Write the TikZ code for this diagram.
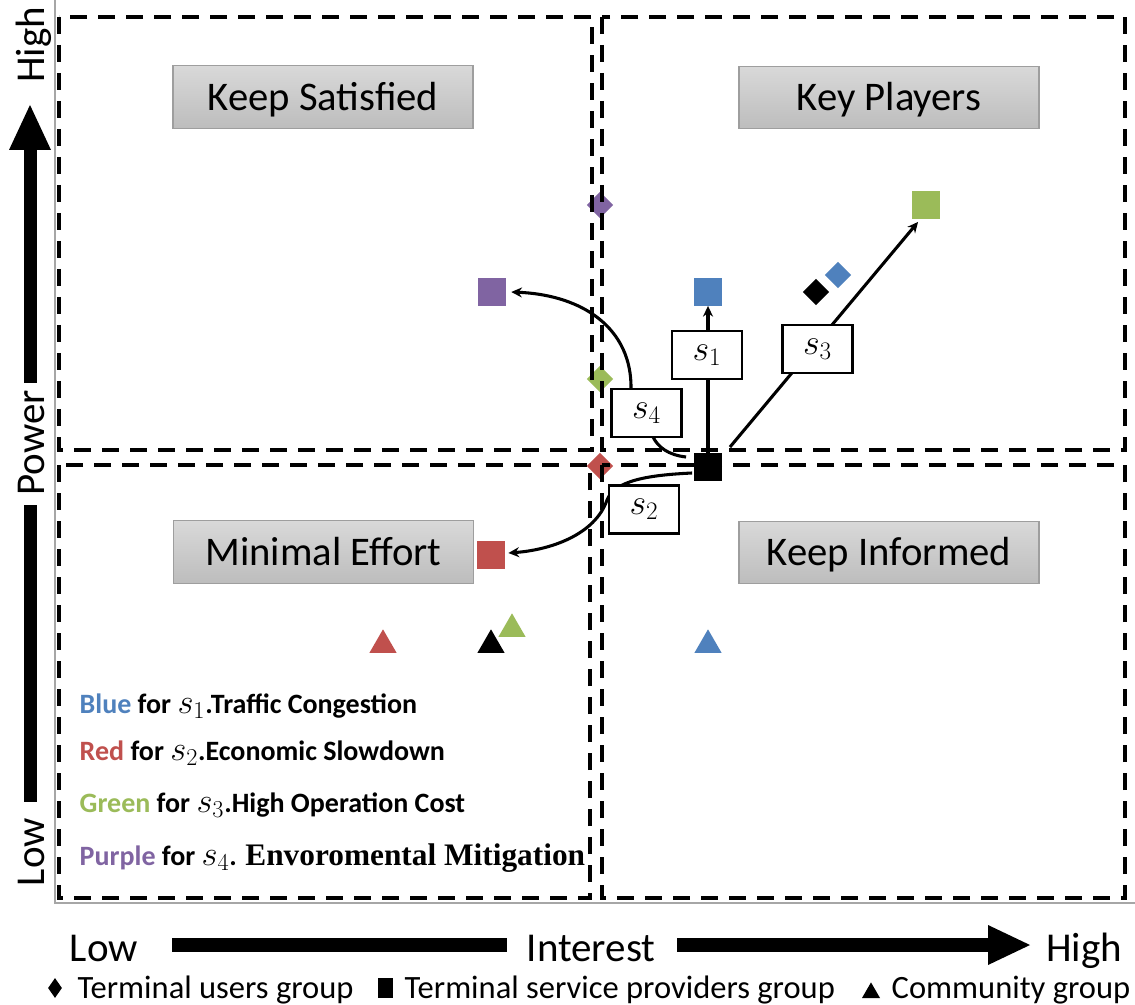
\RequirePackage{fix-cm}
\documentclass[tikz,border=0pt]{standalone}
\usepackage{fontspec}
\usetikzlibrary{shapes.geometric,arrows.meta}
\newfontfamily\carl{Carlito}
\newfontfamily\serifb{Liberation Serif}
\definecolor{cblue}{HTML}{4F81BD}
\definecolor{cred}{HTML}{C0504D}
\definecolor{cgreen}{HTML}{9BBB59}
\definecolor{cpurple}{HTML}{8064A2}
% scenario symbol, set a little larger than the surrounding text
\newcommand{\svar}[1]{{\fontsize{26}{26}\selectfont$s_{#1}$}}
\begin{document}
\begin{tikzpicture}[x=0.75pt,y=-0.75pt,
  quad/.style={draw=black, line width=3pt, dash pattern=on 12.75pt off 8.25pt},
  axisline/.style={draw=black!35, line width=1.1pt},
  zone/.style={draw=black!38, line width=0.9pt, top color=black!15, bottom color=black!26,
    minimum width=225pt, minimum height=47pt, inner sep=0pt,
    font=\carl\fontsize{30.5}{30.5}\selectfont, text height=19.6pt, text depth=0pt},
  sbox/.style={draw=black, fill=white, line width=2.2pt, minimum width=52.5pt,
    minimum height=36pt, inner sep=0pt, font=\fontsize{27}{27}\selectfont},
  sq/.style={rectangle, minimum size=20.5pt, inner sep=0pt},
  dm/.style={diamond, minimum width=20pt, minimum height=20pt, inner sep=0pt},
  tri/.style={regular polygon, regular polygon sides=3, minimum size=23.5pt, inner sep=0pt},
  link/.style={line width=2.3pt, -{Stealth[length=8pt,width=7.5pt]}},
  axisfont/.style={font=\carl\fontsize{30.75}{30.75}\selectfont},
  keyfont/.style={font=\carl\fontsize{24.4}{24.4}\selectfont},
  legfont/.style={font=\carl\bfseries\fontsize{21}{21}\selectfont}
]
\useasboundingbox (0,0) rectangle (1135,1005);
\fill[white] (0,0) rectangle (1135,1005);

% thin axis lines
\draw[axisline] (55,0) -- (55,903) -- (1135,903);

% stakeholder diamonds lying on the quadrant border
\node[dm, fill=cpurple] (d4) at (600,205) {};
\node[dm, fill=cgreen]  (d3) at (600,379) {};
\node[dm, fill=cred]    (d2) at (600,466) {};

% quadrants
\draw[quad] (59,17) rectangle (592,450);
\draw[quad] (602,17) rectangle (1125,450);
\draw[quad] (59,465) rectangle (590,898);
\draw[quad] (602,465) rectangle (1125,898);

% quadrant titles
\node[zone] (ks) at (323,97) {Keep Satisfied};
\node[zone] (kp) at (889,97.5) {Key Players};
\node[zone] (me) at (323.5,552) {Minimal Effort};
\node[zone] (ki) at (889,552.5) {Keep Informed};

% other diamonds
\node[dm, fill=black] (dk) at (816,292) {};
\node[dm, fill=cblue] (d1) at (838,275) {};

% squares
\node[sq, fill=cpurple] (p4) at (492,292) {};
\node[sq, fill=cblue]   (p1) at (708,292) {};
\node[sq, fill=cgreen]  (p3) at (926,205) {};
\node[sq, fill=cred]    (p2) at (491,555) {};
\node[sq, fill=black]   (c)  at (708,467) {};

% triangles
\node[tri, fill=cred]   (t2) at (383,645) {};
\node[tri, fill=black]  (tk) at (491,645) {};
\node[tri, fill=cgreen] (t3) at (512,629) {};
\node[tri, fill=cblue]  (t1) at (708,645) {};

% scenario shifts
\draw[link] (c.north) -- (p1.south);
\draw[link] ([shift={(8,-6)}]c.north east) -- ([shift={(6,3)}]p3.south west);
\draw[link] ([shift={(-8,-10)}]c.west) .. controls +(-18,-2) and +(5,10) .. (653,437)
  -- (631,389) .. controls (632,330) and (585,295) .. ([xshift=4]p4.east);
\draw[link] ([shift={(-2,6)}]c.west) .. controls (650,475) and (615,480) .. (607,500)
  .. controls (595,535) and (550,550) .. ([shift={(3.5,-2)}]p2.east);

\node[sbox] (b1) at (707,355) {$s_1$};
\node[sbox] (b3) at (817.5,349) {$s_3$};
\node[sbox] (b4) at (646.5,413) {$s_4$};
\node[sbox] (b2) at (644,509.5) {$s_2$};

% colour legend
\node[legfont, anchor=base west] (l1) at (75,713) {\textcolor{cblue}{Blue} for \svar{1}.Traffic Congestion};
\node[legfont, anchor=base west] (l2) at (75,760) {\textcolor{cred}{Red} for \svar{2}.Economic Slowdown};
\node[legfont, anchor=base west] (l3) at (75,812) {\textcolor{cgreen}{Green} for \svar{3}.High Operation Cost};
\node[legfont, anchor=base west] (l4) at (75,865) {\textcolor{cpurple}{Purple} for \svar{4}. {\serifb\bfseries\fontsize{23.5}{23.5}\selectfont Envoromental Mitigation}};

% power axis
\fill (24,150) rectangle (37,383);
\fill (9,150) -- (30,105) -- (51,150) -- cycle;
\fill (24,505) rectangle (37,802);
\node[axisfont, rotate=90, anchor=base] (ph) at (44,45) {High};
\node[axisfont, rotate=90, anchor=base] (pp) at (44,443) {Power};
\node[axisfont, rotate=90, anchor=base] (pl) at (44,852) {Low};

% interest axis
\fill (172,938) rectangle (507,952);
\fill (677,938) rectangle (990,952);
\fill (988,925) -- (1030,945) -- (988,965) -- cycle;
\node[axisfont, anchor=base] (il) at (104,961) {Low};
\node[axisfont, anchor=base] (ii) at (591,961) {Interest};
\node[axisfont, anchor=base] (ih) at (1084,961) {High};

% group key
\node[diamond, fill=black, minimum width=10.5pt, minimum height=15pt, inner sep=0pt] (kd) at (55,988) {};
\node[keyfont, anchor=base west] (kdt) at (73,998) {Terminal users group};
\node[rectangle, fill=black, minimum width=11.25pt, minimum height=15pt, inner sep=0pt] (ksq) at (385.5,988) {};
\node[keyfont, anchor=base west] (ksqt) at (400,998) {Terminal service providers group};
\node[regular polygon, regular polygon sides=3, fill=black, minimum size=15.6pt, inner sep=0pt] (ktr) at (871,992.8) {};
\node[keyfont, anchor=base west] (ktrt) at (887,998) {Community group};
\end{tikzpicture}
\end{document}
